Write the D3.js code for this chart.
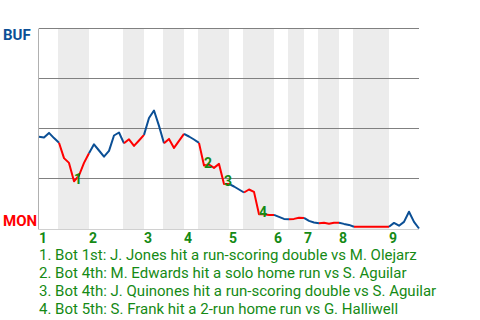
<!DOCTYPE html>
<html>
<head>
<meta charset="utf-8">
<script src="https://cdn.jsdelivr.net/npm/d3@7"></script>
<style>
  body { margin: 0; background: #fff; }
  svg { font-family: Roboto, sans-serif; }
</style>
</head>
<body>
<div id="chart"></div>
<script>
// BUF win probability after each play
const winProb = [
  0.459, 0.455, 0.478, 0.452, 0.429, 0.352, 0.328, 0.236, 0.265, 0.328,
  0.376, 0.421, 0.39, 0.359, 0.388, 0.465, 0.48, 0.426, 0.446, 0.413,
  0.44, 0.468, 0.5525, 0.59, 0.513, 0.426, 0.448, 0.403, 0.438, 0.473,
  0.46, 0.445, 0.428, 0.315, 0.32, 0.303, 0.323, 0.223, 0.223, 0.21,
  0.195, 0.18, 0.195, 0.183, 0.071, 0.071, 0.068, 0.068, 0.058, 0.048,
  0.046, 0.048, 0.054, 0.053, 0.038, 0.03, 0.026, 0.029, 0.024, 0.029,
  0.029, 0.023, 0.018, 0.009, 0.009, 0.009, 0.009, 0.009, 0.009, 0.009,
  0.009, 0.028, 0.014, 0.033, 0.084, 0.033, 0
];

// play index where each half inning starts (last entry = end of game)
const halfStarts = [0, 4, 10, 17, 21, 25, 29, 32, 38, 41, 47, 50, 53, 56, 60, 63, 70, 76];

const innings = ["1", "2", "3", "4", "5", "6", "7", "8", "9"];

const eventPlays = [7, 33, 37, 44];
const eventTexts = [
  "1. Bot 1st: J. Jones hit a run-scoring double vs M. Olejarz",
  "2. Bot 4th: M. Edwards hit a solo home run vs S. Aguilar",
  "3. Bot 4th: J. Quinones hit a run-scoring double vs S. Aguilar",
  "4. Bot 5th: S. Frank hit a 2-run home run vs G. Halliwell"
];

const teams = ["BUF", "MON"];

const blue = "#0b4f95", red = "#ff0000", green = "#158a15";

const W = 480, H = 320;
const svg = d3.select("#chart").append("svg")
  .attr("width", W).attr("height", H);

const x = d3.scaleLinear()
  .domain([0, winProb.length - 1])
  .range([39, 419]);

const y = d3.scaleLinear()
  .domain([0, 1])
  .range([228.5, 28.5]);

// shaded bottom halves
const halves = d3.range(halfStarts.length - 1).map(i => ({
  i: i, s: halfStarts[i], e: halfStarts[i + 1]
}));

svg.append("g")
  .selectAll("rect")
  .data(halves.filter(d => d.i % 2 === 1))
  .enter().append("rect")
  .attr("x", d => x(d.s) - 1)
  .attr("y", y(1))
  .attr("width", d => x(d.e) - x(d.s) + 1)
  .attr("height", y(0) - y(1) + 1)
  .attr("fill", "#ececec");

// gridlines
svg.append("g")
  .selectAll("line")
  .data([0.25, 0.5, 0.75, 1])
  .enter().append("line")
  .attr("x1", x(0)).attr("x2", x(winProb.length - 1))
  .attr("y1", d => y(d)).attr("y2", d => y(d))
  .attr("stroke", "#808080")
  .attr("stroke-width", 1);

// axis lines
svg.append("line")
  .attr("x1", x(0) - 0.5).attr("x2", x(0) - 0.5)
  .attr("y1", y(1)).attr("y2", y(0) + 1)
  .attr("stroke", "#b0b0b0");
svg.append("line")
  .attr("x1", x(0)).attr("x2", x(winProb.length - 1))
  .attr("y1", y(0) + 1).attr("y2", y(0) + 1)
  .attr("stroke", "#d0d0d0");

// win probability line, one path per half inning
const line = d3.line()
  .x(d => x(d.k))
  .y(d => y(d.v));

svg.append("g")
  .selectAll("path")
  .data(halves)
  .enter().append("path")
  .attr("fill", "none")
  .attr("stroke", d => d.i % 2 === 0 ? blue : red)
  .attr("stroke-width", 2)
  .attr("stroke-linejoin", "round")
  .attr("d", d => line(d3.range(d.s, d.e + 1).map(k => ({ k: k, v: winProb[k] }))));

// event markers
svg.append("g")
  .selectAll("text")
  .data(eventPlays)
  .enter().append("text")
  .attr("x", d => x(d))
  .attr("y", d => y(winProb[d]) + 2.5)
  .attr("fill", green)
  .attr("font-size", 14)
  .attr("font-weight", "bold")
  .text((d, i) => i + 1);

// team labels
svg.append("text")
  .attr("x", 3).attr("y", 40)
  .attr("fill", blue)
  .attr("font-size", 15).attr("font-weight", "bold")
  .text(teams[0]);
svg.append("text")
  .attr("x", 3).attr("y", 226)
  .attr("fill", red)
  .attr("font-size", 15).attr("font-weight", "bold")
  .text(teams[1]);

// inning labels
svg.append("g")
  .selectAll("text")
  .data(innings)
  .enter().append("text")
  .attr("x", (d, i) => x(halfStarts[i * 2]))
  .attr("y", 242.5)
  .attr("fill", green)
  .attr("font-size", 14).attr("font-weight", "bold")
  .text(d => d);

// legend
svg.append("g")
  .selectAll("text")
  .data(eventTexts)
  .enter().append("text")
  .attr("x", 39)
  .attr("y", (d, i) => 260 + i * 18)
  .attr("fill", green)
  .attr("font-size", 15)
  .text(d => d);
</script>
</body>
</html>
